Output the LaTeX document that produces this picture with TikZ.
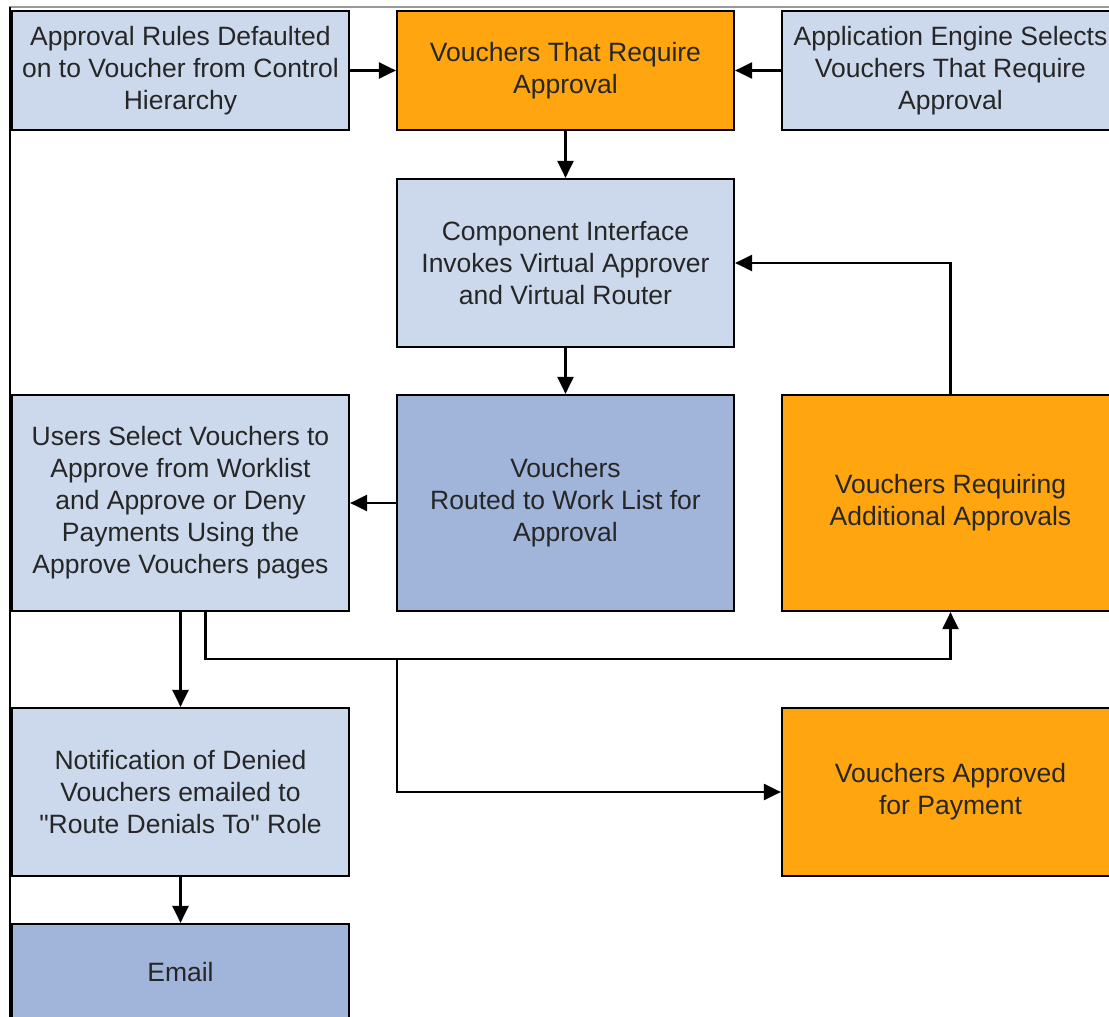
\documentclass[tikz,border=0pt]{standalone}
\usepackage{fontspec}
\setmainfont{Liberation Sans}
\usetikzlibrary{arrows.meta, positioning}
\definecolor{hellblau}{HTML}{CCD9EC}
\definecolor{dunkelblau}{HTML}{A1B4DA}
\definecolor{belegorange}{HTML}{FFA50F}
\definecolor{textgrau}{HTML}{262626}
\tikzset{
    kasten/.style={draw=black, line width=2.2pt, align=center, text=textgrau,
        font=\fontsize{26.5}{32}\selectfont, minimum width=337pt, inner sep=0pt},
    hell/.style={kasten, fill=hellblau},
    dunkel/.style={kasten, fill=dunkelblau},
    orangekasten/.style={kasten, fill=belegorange},
    pfeil/.style={-{Triangle[length=17pt, width=16pt]}, line width=2.2pt}
}

\begin{document}
\begin{tikzpicture}[x=1pt, y=-1pt]

\useasboundingbox (0,0) rectangle (1109,1017);
\clip (0,0) rectangle (1109,1017);

% Rahmen
\draw[line width=1.5pt, black!40] (9,7) -- (1109,7);
\draw[line width=1.5pt] (10,7) -- (10,1017);

% Kaesten
\node[hell, minimum height=119pt] (regeln) at (180.5,70.5)
    {Approval Rules Defaulted\\on to Voucher from Control\\Hierarchy};
\node[orangekasten, minimum height=119pt] (pflicht) at (565.5,70.5)
    {Vouchers That Require\\Approval};
\node[hell, minimum height=119pt] (engine) at (950.5,70.5)
    {Application Engine Selects\\Vouchers That Require\\Approval};
\node[hell, minimum height=168pt] (schnitt) at (565.5,263)
    {Component Interface\\Invokes Virtual Approver\\and Virtual Router};
\node[hell, minimum height=216pt] (auswahl) at (180.5,503)
    {Users Select Vouchers to\\Approve from Worklist\\and Approve or Deny\\Payments Using the\\Approve Vouchers pages};
\node[dunkel, minimum height=216pt] (worklist) at (565.5,503)
    {Vouchers\\Routed to Work List for\\Approval};
\node[orangekasten, minimum height=216pt] (zusatz) at (950.5,503)
    {Vouchers Requiring\\Additional Approvals};
\node[hell, minimum height=168pt] (abgelehnt) at (180.5,792)
    {Notification of Denied\\Vouchers emailed to\\\textquotedbl Route Denials To\textquotedbl{} Role};
\node[orangekasten, minimum height=168pt] (genehmigt) at (950.5,792)
    {Vouchers Approved\\for Payment};
\node[dunkel, minimum height=96pt] (email) at (180.5,972) {Email};

% Knickpunkt
\coordinate (knick) at (397,659);

% Pfeile
\draw[pfeil] (regeln) -- (pflicht);
\draw[pfeil] (engine) -- (pflicht);
\draw[pfeil] (pflicht) -- (schnitt);
\draw[pfeil] (schnitt) -- (worklist);
\draw[pfeil] (zusatz.north) |- (schnitt.east);
\draw[pfeil] (worklist) -- (auswahl);
\draw[pfeil] (auswahl) -- (abgelehnt);
\draw[pfeil] ([xshift=25pt]auswahl.south) |- (knick) -| (zusatz.south);
\draw[pfeil] (knick) |- (genehmigt.west);
\draw[pfeil] (abgelehnt) -- (email);

\end{tikzpicture}
\end{document}
